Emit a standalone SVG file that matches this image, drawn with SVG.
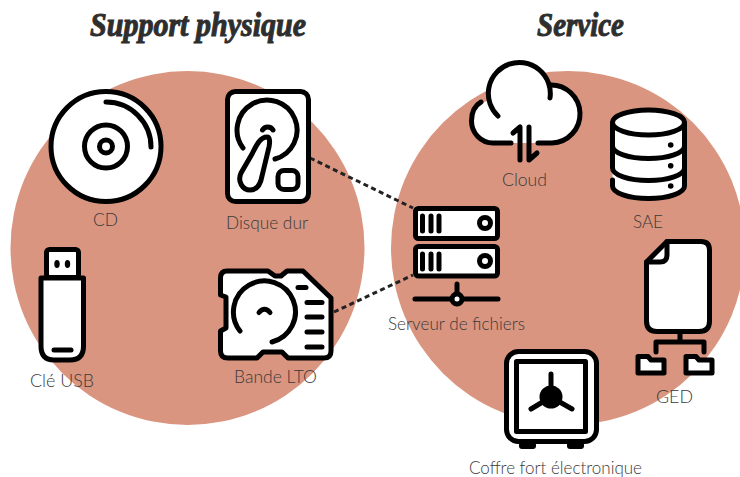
<svg xmlns="http://www.w3.org/2000/svg" width="740" height="477" viewBox="0 0 740 477">
<style>
.bg{fill:#d9957f}
.t{font-family:"Liberation Serif",serif;font-weight:700;font-style:italic;font-size:33px;fill:#2e2e2e;stroke:#2e2e2e;stroke-width:1}
.l{font-family:"Lato","Liberation Sans",sans-serif;font-weight:300;font-size:18px;fill:#3a3a3a}
.i{fill:#fff;stroke:#000;stroke-width:5;stroke-linecap:round;stroke-linejoin:round}
.n{fill:none;stroke:#000;stroke-width:5;stroke-linecap:round;stroke-linejoin:round}
.w{fill:#fff;stroke:none}
.c{fill:none;stroke:#222;stroke-width:3;stroke-dasharray:5 3.5}
</style>
<rect width="740" height="477" fill="#fff"/>
<circle id="zone-support" class="bg" cx="187.5" cy="248" r="177"/>
<circle id="zone-service" class="bg" cx="568" cy="248" r="177"/>
<text class="t" x="90" y="36" textLength="216" lengthAdjust="spacingAndGlyphs">Support physique</text>
<text class="t" x="537" y="36" textLength="87" lengthAdjust="spacingAndGlyphs">Service</text>
<g id="connectors">
<path class="c" d="M310,158L413,208"/>
<path class="c" d="M334,312L413,275"/>
</g>
<g id="cd">
<circle class="i" cx="106" cy="146.5" r="55"/>
<circle class="n" cx="106" cy="146.5" r="21.500"/>
<circle class="n" cx="106" cy="146.500" r="6.500"/>
<path class="n" d="M106,102A45,45 0 0 1 151,147" stroke-width="4.500"/>
<text class="l" x="93" y="226" textLength="25" lengthAdjust="spacingAndGlyphs">CD</text>
</g>
<g id="disque-dur">
<rect class="i" x="227.500" y="91.500" width="81" height="110" rx="8"/>
<path class="n" d="M243,148A30,30 0 1 1 275,159"/>
<path class="n" d="M262.500,130A6,6 0 0 1 273,130"/>
<path class="n" d="M267,137C260,137 256,146 252,154L241,173C237,182 243,190 250,190C258,190 261,182 262,176L269,147C270,142 270,137 267,137Z"/>
<rect class="n" x="278" y="170.500" width="20" height="19" rx="6"/>
<text class="l" x="226" y="229" textLength="82" lengthAdjust="spacingAndGlyphs">Disque dur</text>
</g>
<g id="cle-usb">
<rect class="i" x="46.500" y="249.500" width="32" height="28" rx="3"/>
<path class="i" d="M41,278H83.500V346Q83.500,360 70,360H54Q41,360 41,346Z"/>
<ellipse cx="57" cy="264" rx="2.700" ry="4"/>
<ellipse cx="67.500" cy="264" rx="2.700" ry="4"/>
<path class="n" d="M54,350H71" stroke-width="4.500"/>
<text class="l" x="30" y="387" textLength="64" lengthAdjust="spacingAndGlyphs">Clé USB</text>
</g>
<g id="bande-lto">
<path class="i" d="M227,271H268L275,276H281L287,271H303L331,298V351Q331,358 324,358H288L282,352H263L257,358H228Q220.500,358 220.500,351V331L226,328V297L220.500,295V278Q220.500,271 227,271Z"/>
<path class="n" d="M240,331A31,31 0 1 1 272,342"/>
<path class="n" d="M259,312.500Q264.500,306 270,312.500"/>
<path class="n" d="M298,287.500H306M307,302.500H322M307,317H322M307,332H322M307,347H322"/>
<text class="l" x="234" y="383" textLength="83" lengthAdjust="spacingAndGlyphs">Bande LTO</text>
</g>
<g id="cloud">
<circle class="w" cx="519" cy="92" r="31"/>
<circle class="w" cx="552" cy="114" r="29"/>
<circle class="w" cx="493" cy="121.500" r="21.500"/>
<rect class="w" x="493" y="100" width="60" height="43"/>
<path class="n" d="M498,116A31,31 0 1 1 550,98"/>
<path class="n" d="M550,85A29,29 0 0 1 552,143H538"/>
<path class="n" d="M481,102C474,106 471.500,113 471.500,121C471.500,133 481,143 493,143H511"/>
<path class="n" d="M513,133L520,127V160M529,127V160L537,153"/>
<text class="l" x="502" y="186" textLength="45" lengthAdjust="spacingAndGlyphs">Cloud</text>
</g>
<g id="sae">
<path class="w" d="M612.500,122H684.500V186A36,12.500 0 0 1 612.500,186Z"/>
<ellipse class="i" cx="648.500" cy="122.500" rx="36" ry="12.500"/>
<path class="n" d="M612.500,123V146A36,12.500 0 0 0 684.500,146V123"/>
<path class="n" d="M612.500,146V168A36,12.500 0 0 0 684.500,168V146"/>
<path class="n" d="M612.500,180V186A36,12.500 0 0 0 684.500,186V168"/>
<circle cx="670.700" cy="145" r="2.800"/>
<circle cx="670.700" cy="165.700" r="2.800"/>
<circle cx="670.700" cy="186" r="2.800"/>
<text class="l" x="633" y="228" textLength="30" lengthAdjust="spacingAndGlyphs">SAE</text>
</g>
<g id="serveur">
<rect class="i" x="415.500" y="208.500" width="82" height="30" rx="3"/>
<rect class="i" x="415.500" y="246.500" width="82" height="29.500" rx="3"/>
<path class="n" d="M422.500,216V231M431,216V231M439,216V231M422.500,254V269M431,254V269M439,254V269"/>
<circle class="i" cx="485" cy="223" r="5.500"/>
<circle class="i" cx="485" cy="261" r="5.500"/>
<path class="n" d="M415,299H498M457,284V293"/>
<circle class="i" cx="457" cy="299" r="5"/>
<text class="l" x="388" y="330" textLength="137" lengthAdjust="spacingAndGlyphs">Serveur de fichiers</text>
</g>
<g id="ged">
<path class="i" d="M667,241.500H701Q709.500,241.500 709.500,250V321Q709.500,331.500 699,331.500H657Q646.500,331.500 646.500,321V262Z"/>
<path class="n" d="M667,241.500V255Q667,262 660,262H646.500"/>
<path class="n" d="M680,334V342M656,352V342H704V352" stroke-width="4.500"/>
<path class="i" d="M638,356.500H648L651,360H664V373H638Z" stroke-width="4.500"/>
<path class="i" d="M686,356.500H696L699,360H712V373H686Z" stroke-width="4.500"/>
<text class="l" x="656" y="403" textLength="37" lengthAdjust="spacingAndGlyphs">GED</text>
</g>
<g id="coffre">
<rect x="519" y="442" width="17" height="7" rx="3"/>
<rect x="567" y="442" width="17" height="7" rx="3"/>
<rect class="i" x="506.500" y="351.500" width="90" height="90" rx="12"/>
<rect class="n" x="516.500" y="361.500" width="69" height="70"/>
<path class="n" d="M551,374V397L531,409M551,397L572,409"/>
<circle cx="551" cy="397" r="11.500"/>
<text class="l" x="469" y="474" textLength="173" lengthAdjust="spacingAndGlyphs">Coffre fort électronique</text>
</g>
</svg>
